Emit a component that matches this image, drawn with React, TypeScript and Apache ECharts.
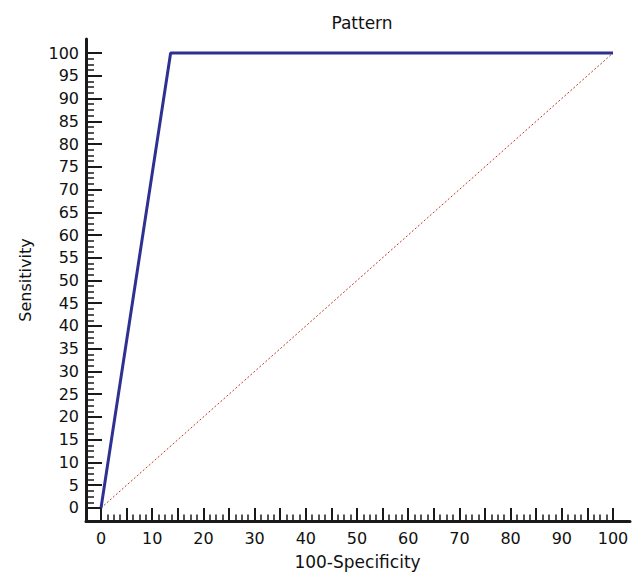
import React, { useEffect, useRef } from "react";
import * as echarts from "echarts";

const rocX: number[] = [0, 13.6, 100];
const rocY: number[] = [0, 100, 100];
const refX: number[] = [0, 100];
const refY: number[] = [0, 100];
const xMajorTicks: number[] = [0, 5, 10, 15, 20, 25, 30, 35, 40, 45, 50, 55, 60, 65, 70, 75, 80, 85, 90, 95, 100];
const xLabels: number[] = [0, 10, 20, 30, 40, 50, 60, 70, 80, 90, 100];
const yMajorTicks: number[] = [0, 5, 10, 15, 20, 25, 30, 35, 40, 45, 50, 55, 60, 65, 70, 75, 80, 85, 90, 95, 100];
const yLabels: number[] = yMajorTicks;

const minorTicks: number[] = [];
for (let i = 0; i <= 80; i++) {
  if (i % 4 !== 0) minorTicks.push(i * 1.25);
}

const FONT = "DejaVu Sans";

export default function App() {
  const ref = useRef<HTMLDivElement>(null);
  useEffect(() => {
    if (!ref.current) return;
    const chart = echarts.init(ref.current, null, { renderer: "svg" });
    const xMin = -2.93, xMax = 103.32;
    const yMin = -2.86, yMax = 103.08;
    const lineCol = "#1a1a1a";
    chart.setOption({
      animation: false,
      backgroundColor: "#ffffff",
      title: {
        text: "Pattern",
        left: 357,
        top: 9,
        textAlign: "center",
        textStyle: { fontFamily: FONT, fontSize: 17, fontWeight: "normal", color: "#111" },
      },
      grid: { left: 86, top: 39, width: 544, height: 482 },
      xAxis: [
        {
          type: "value",
          min: xMin,
          max: xMax,
          position: "bottom",
          axisLine: { show: true, onZero: false, lineStyle: { color: lineCol, width: 3 } },
          axisTick: { show: true, inside: true, length: 13, customValues: xMajorTicks, lineStyle: { color: lineCol, width: 2 } },
          axisLabel: { show: true, customValues: xLabels, margin: 9, fontFamily: FONT, fontSize: 16, color: "#111" },
          splitLine: { show: false },
        },
        {
          type: "value",
          min: xMin,
          max: xMax,
          position: "bottom",
          axisLine: { show: false, onZero: false },
          axisTick: { show: true, inside: true, length: 6.5, customValues: minorTicks, lineStyle: { color: lineCol, width: 1.5 } },
          axisLabel: { show: false },
          splitLine: { show: false },
        },
      ],
      yAxis: [
        {
          type: "value",
          min: yMin,
          max: yMax,
          position: "left",
          axisLine: { show: true, onZero: false, lineStyle: { color: lineCol, width: 3 } },
          axisTick: { show: true, inside: true, length: 16, customValues: yMajorTicks, lineStyle: { color: lineCol, width: 2 } },
          axisLabel: { show: true, customValues: yLabels, margin: 7, fontFamily: FONT, fontSize: 16, color: "#111" },
          splitLine: { show: false },
        },
        {
          type: "value",
          min: yMin,
          max: yMax,
          position: "left",
          axisLine: { show: false, onZero: false },
          axisTick: { show: true, inside: true, length: 8, customValues: minorTicks, lineStyle: { color: lineCol, width: 1.5 } },
          axisLabel: { show: false },
          splitLine: { show: false },
        },
      ],
      graphic: [
        {
          type: "text",
          x: 357.5,
          y: 562,
          style: { text: "100-Specificity", fontFamily: FONT, fontSize: 17, fill: "#111", textAlign: "center", textVerticalAlign: "middle" },
        },
        {
          type: "text",
          x: 25,
          y: 280,
          rotation: Math.PI / 2,
          style: { text: "Sensitivity", fontFamily: FONT, fontSize: 16, fill: "#111", textAlign: "center", textVerticalAlign: "middle" },
        },
      ],
      series: [
        {
          type: "line",
          data: refX.map((x, i) => [x, refY[i]]),
          showSymbol: false,
          symbol: "none",
          lineStyle: { color: "#c0392b", width: 1, type: [2, 2] },
          z: 2,
        },
        {
          type: "line",
          data: rocX.map((x, i) => [x, rocY[i]]),
          showSymbol: false,
          symbol: "none",
          lineStyle: { color: "#2e3192", width: 3 },
          z: 3,
        },
      ],
    });
    return () => chart.dispose();
  }, []);
  return <div ref={ref} style={{ position: "fixed", left: 0, top: 0, width: 641, height: 572 }} />;
}
